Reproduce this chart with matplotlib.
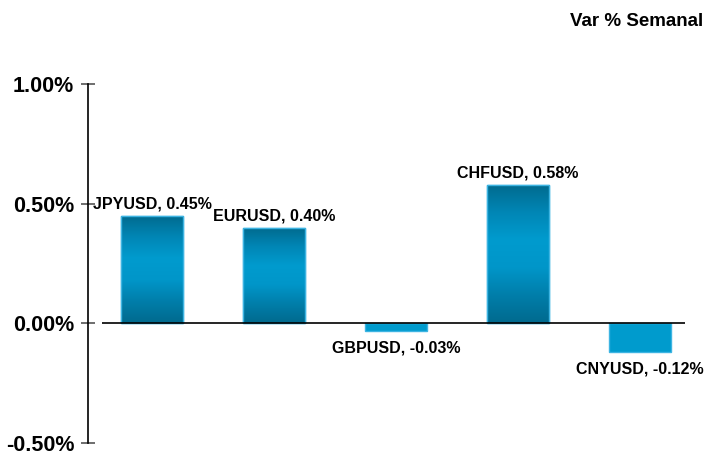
import numpy as np
import matplotlib
matplotlib.use("Agg")
import matplotlib.pyplot as plt
from matplotlib.colors import LinearSegmentedColormap

plt.rcParams['font.family'] = ['Liberation Sans', 'DejaVu Sans']
plt.rcParams['font.weight'] = 'bold'

# data
pares = ["JPYUSD", "EURUSD", "GBPUSD", "CHFUSD", "CNYUSD"]
var_semanal = [0.45, 0.40, -0.03, 0.58, -0.12]
yticks = [-0.5, 0.0, 0.5, 1.0]
titulo = "Var % Semanal"

fig = plt.figure(figsize=(7.06, 4.51), dpi=100)
ax = fig.add_axes([102 / 706, 1 - 443 / 451, (685 - 102) / 706, (443 - 84) / 451])

x = np.arange(len(pares))
bars = ax.bar(x, var_semanal, width=0.51, color='#009BCD', edgecolor='#3DB4E2', linewidth=1, zorder=2)

# vertical gradient inside the positive bars: dark - light - dark
cmap = LinearSegmentedColormap.from_list('g', ['#006A8E', '#0086B5', '#009BCE', '#0096C9', '#007EAA', '#006A8E'])
grad = np.linspace(0, 1, 256).reshape(-1, 1)
for b, v in zip(bars, var_semanal):
    if v <= 0:
        continue
    x0, w = b.get_x(), b.get_width()
    im = ax.imshow(grad, aspect='auto', cmap=cmap, extent=[x0, x0 + w, 0, v],
                   origin='upper', zorder=2.5)
    im.set_clip_path(b)
    ax.add_patch(plt.Rectangle((x0, 0), w, v, fill=False, edgecolor='#3DB4E2', lw=1, zorder=3))

ax.set_xlim(-0.41, 4.37)
ax.set_ylim(-0.5, 1.0)
ax.axhline(0, color='black', lw=1.2, zorder=4)

for s in ['top', 'right', 'bottom']:
    ax.spines[s].set_visible(False)
ax.spines['left'].set_position(('outward', 10))
ax.spines['left'].set_linewidth(1.2)
ax.set_xticks([])
ax.set_yticks(yticks)
ax.set_yticklabels([f"{t:.2f}%" for t in yticks], fontsize=15.5, fontweight='bold')
ax.tick_params(axis='y', direction='inout', length=10, width=1.2, color='#555555', pad=5)

for xi, v, n in zip(x, var_semanal, pares):
    if v >= 0:
        ax.annotate(f"{n}, {v:.2f}%", (xi, v), xytext=(0, 3), textcoords='offset points',
                    ha='center', va='bottom', fontsize=11.5, fontweight='bold', zorder=5)
    else:
        ax.annotate(f"{n}, {v:.2f}%", (xi, v), xytext=(0, -7), textcoords='offset points',
                    ha='center', va='top', fontsize=11.5, fontweight='bold', zorder=5)

fig.text(703 / 706, 1 - 22 / 451, titulo, ha='right', va='center', fontsize=13.5, fontweight='bold')

fig.savefig("out.png", dpi=100)
